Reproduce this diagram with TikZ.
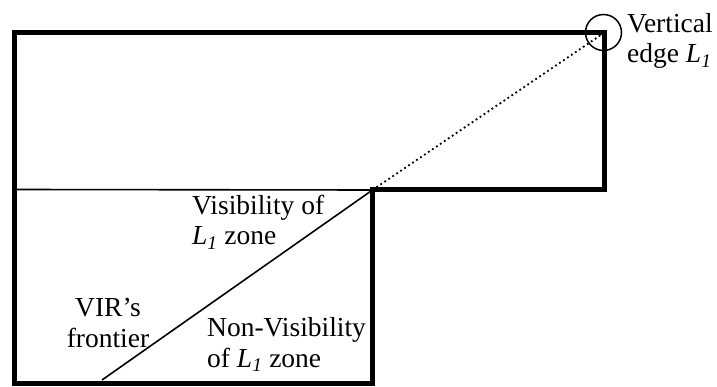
\documentclass[tikz,border=0pt]{standalone}
\usepackage{fontspec}
\setmainfont{Liberation Serif}
\usetikzlibrary{positioning}
\newcommand{\Lone}{{\itshape L\textsubscript{1}}}

\begin{document}
\begin{tikzpicture}[
  x=1pt,y=-1pt,
  wall/.style={line width=5pt,line join=miter},
  ray/.style={line width=1.6pt},
  sight/.style={line width=1.8pt,dash pattern=on 1.8pt off 3pt},
  lbl/.style={inner sep=0pt,font=\fontsize{27.5}{30.5}\selectfont,align=left}
]
\useasboundingbox (0,0) rectangle (717,387);
% corners of the room
\coordinate (tl) at (14.5,32.5);
\coordinate (tr) at (604.5,32.5);
\coordinate (sr) at (604.5,190);
\coordinate (cn) at (372.5,190);
\coordinate (br) at (372.5,383.5);
\coordinate (bl) at (14.5,383.5);
\coordinate (ml) at (14.5,189.5);
\coordinate (fr) at (102,380);
\draw[wall] (tl) -- (tr) -- (sr) -- (cn) -- (br) -- (bl) -- cycle;
\draw[ray] (ml) -- (cn);
\draw[ray] (fr) -- (cn);
\draw[sight] (cn) -- (tr);
\node[draw,circle,line width=1.5pt,minimum size=36pt,inner sep=0pt] (ring) at (603.5,32.5) {};
% labels
\node[lbl,anchor=base west] (vert) at (627,63) {Vertical\\edge \Lone};
\node[lbl,anchor=base west] (vis) at (192,245) {Visibility of\\\Lone{} zone};
\node[lbl,anchor=base west] (nonvis) at (207,367) {Non-Visibility\\of \Lone{} zone};
\node[lbl,align=center,anchor=base] (vir) at (108,347) {VIR’s\\frontier};
\end{tikzpicture}
\end{document}
